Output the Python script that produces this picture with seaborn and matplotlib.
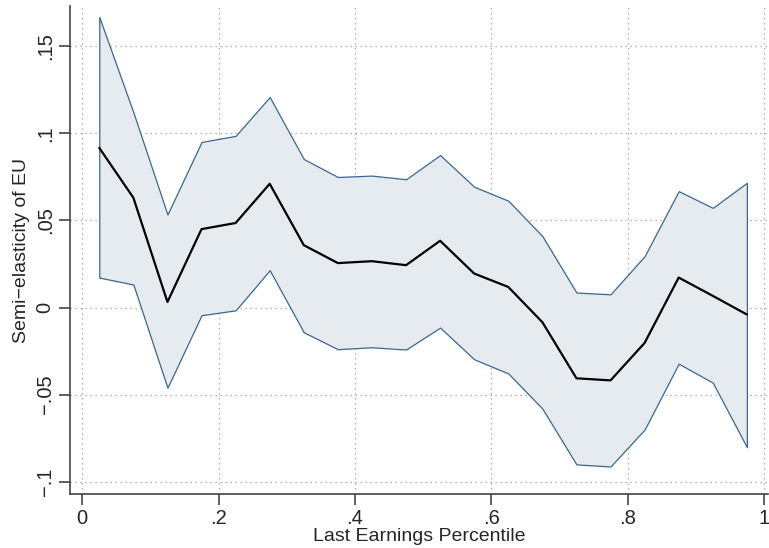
import numpy as np
import pandas as pd
import matplotlib
matplotlib.use("Agg")
import matplotlib.pyplot as plt
import seaborn as sns

# Percentile bin midpoints and estimated semi-elasticities with 95% bounds
percentile = [0.025, 0.075, 0.125, 0.175, 0.225, 0.275, 0.325, 0.375, 0.425, 0.475,
              0.525, 0.575, 0.625, 0.675, 0.725, 0.775, 0.825, 0.875, 0.925, 0.975]
estimate = [0.0916, 0.0630, 0.0032, 0.0450, 0.0485, 0.0710, 0.0358, 0.0255, 0.0266, 0.0243,
            0.0383, 0.0195, 0.0118, -0.0084, -0.0406, -0.0418, -0.0203, 0.0172, 0.0067, -0.0040]
upper = [0.1667, 0.1120, 0.0534, 0.0950, 0.0985, 0.1208, 0.0852, 0.0749, 0.0757, 0.0736,
         0.0875, 0.0693, 0.0613, 0.0410, 0.0086, 0.0076, 0.0295, 0.0668, 0.0572, 0.0716]
lower = [0.0172, 0.0132, -0.0460, -0.0044, -0.0016, 0.0214, -0.0142, -0.0239, -0.0228, -0.0241,
         -0.0115, -0.0297, -0.0378, -0.0580, -0.0900, -0.0912, -0.0700, -0.0322, -0.0431, -0.0801]

x_ticks = [0, 0.2, 0.4, 0.6, 0.8, 1.0]
x_labels = ["0", ".2", ".4", ".6", ".8", "1"]
y_ticks = [-0.1, -0.05, 0, 0.05, 0.1, 0.15]
y_labels = ["\u2212.1", "\u2212.05", "0", ".05", ".1", ".15"]

sns.set_style("white")
plt.rcParams["font.family"] = ["Liberation Sans", "DejaVu Sans"]

df = pd.DataFrame({"pct": percentile, "est": estimate, "hi": upper, "lo": lower})

fig = plt.figure(figsize=(7.69, 5.48), dpi=100)
ax = fig.add_axes([0.091, 0.0985, 0.9077, 0.8905])

band_edge = "#3b6790"
ax.fill_between(df["pct"], df["lo"], df["hi"], facecolor="#e6ebf0",
                edgecolor=band_edge, linewidth=0.9, zorder=1)
sns.lineplot(data=df, x="pct", y="est", color="black", linewidth=1.6,
             ax=ax, zorder=3, legend=False)

ax.set_xlim(-0.018, 1.006)
ax.set_ylim(-0.107, 0.173)
ax.set_xticks(x_ticks)
ax.set_xticklabels(x_labels)
ax.set_yticks(y_ticks)
ax.set_yticklabels(y_labels, rotation=90, va="center")

for v in x_ticks:
    ax.axvline(v, color="#9a9a9a", linestyle=(0, (1, 3)), linewidth=0.9, zorder=0.5)
for v in y_ticks:
    ax.axhline(v, color="#9a9a9a", linestyle=(0, (1, 3)), linewidth=0.9, zorder=0.5)

for side in ("top", "right"):
    ax.spines[side].set_visible(False)
for side in ("left", "bottom"):
    ax.spines[side].set_color("#444444")
    ax.spines[side].set_linewidth(1.2)

ax.tick_params(axis="both", direction="out", length=8, width=1.2, color="#444444",
               labelsize=14.5, pad=3, left=True, bottom=True)
ax.set_xlabel("Last Earnings Percentile", fontsize=14, labelpad=0)
ax.set_ylabel("Semi\u2212elasticity of EU", fontsize=14, labelpad=4)

fig.savefig("out.png", dpi=100)
